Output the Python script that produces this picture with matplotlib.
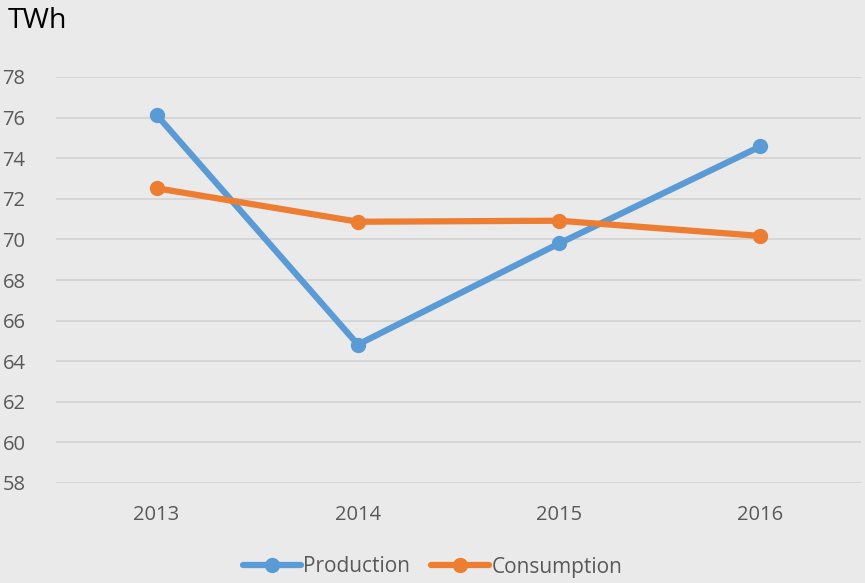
import matplotlib
matplotlib.use("Agg")
import matplotlib.pyplot as plt

years = ["2013", "2014", "2015", "2016"]
production = [76.13, 64.82, 69.8, 74.58]
consumption = [72.52, 70.87, 70.92, 70.17]
yticks = [58, 60, 62, 64, 66, 68, 70, 72, 74, 76, 78]

plt.rcParams['font.family'] = ['Open Sans', 'DejaVu Sans']
bg = '#EAEAEA'
fig = plt.figure(figsize=(8.65, 5.83), dpi=100, facecolor=bg)
ax = fig.add_axes([56/865, (583-483)/583, (861-56)/865, (483-77)/583], facecolor=bg)

x = list(range(len(years)))
ax.plot(x, production, color='#5B9BD5', lw=4.5, marker='o', ms=10, label='Production', solid_capstyle='round')
ax.plot(x, consumption, color='#ED7D31', lw=4.5, marker='o', ms=10, label='Consumption', solid_capstyle='round')

ax.set_xlim(-0.5, len(years) - 0.5)
ax.set_ylim(58, 78)
ax.set_yticks(yticks)
ax.set_xticks(x)
ax.set_xticklabels(years)
ax.grid(axis='y', color='#D4D4D4', lw=1.3)
ax.set_axisbelow(True)
for s in ax.spines.values():
    s.set_visible(False)
ax.tick_params(length=0, colors='#595959', labelsize=14.5)
ax.tick_params(axis='y', pad=22)
ax.tick_params(axis='x', pad=16)

fig.text(8/865, 1 - 21/583, 'TWh', fontsize=20.5, color='#000000', va='center', ha='left')

leg = fig.legend(loc='center', bbox_to_anchor=(0.5, 1 - 567/583), ncol=2, frameon=False,
                 fontsize=15, labelcolor='#595959', handlelength=2.8, handletextpad=0.1,
                 columnspacing=1.0)

fig.savefig('out.png', dpi=100, facecolor=bg)
